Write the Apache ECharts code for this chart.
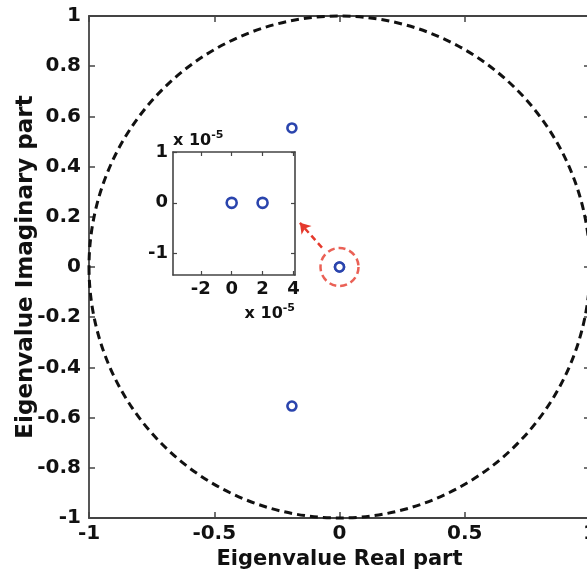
<!DOCTYPE html>
<html>
<head>
<meta charset="utf-8">
<script src="https://cdn.jsdelivr.net/npm/echarts@6/dist/echarts.min.js"></script>
<style>
  html, body { margin: 0; padding: 0; background: #fff; }
  #chart { width: 587px; height: 577px; }
</style>
</head>
<body>
<div id="chart"></div>
<script>
// Closed-loop eigenvalues (real / imaginary parts)
const eigReal = [-0.19, -0.19, 0, 2e-5];
const eigImag = [0.554, -0.554, 0, 0];

// Unit circle: centre (re, im) and radius
const unitCircle = [0, 0, 1];

// Zoomed-in window around the origin
const insetXRange = [-3.8e-5, 4.1e-5];
const insetYRange = [-1.42e-5, 1e-5];
const insetXTicks = [-2e-5, 0, 2e-5, 4e-5];
const insetYTicks = [-1e-5, 0, 1e-5];

// Highlight around the origin cluster, and the pointer towards the zoom window
const highlightCenter = [0, 0];
const arrowFrom = [-0.070, 0.077];
const arrowTo = [-0.158, 0.176];

const FONT = 'DejaVu Sans';
const AXIS = '#444';
const TEXT = '#111';
const BLUE = '#2a44ad';
const RED = '#e5392c';

const chart = echarts.init(document.getElementById('chart'));

const labelStyle = (size, margin) => ({
  color: TEXT, fontFamily: FONT, fontWeight: 'bold', fontSize: size, margin: margin
});
const lineStyle = (w) => ({ color: AXIS, width: w });

const sciName = {
  b: { fontFamily: FONT, fontWeight: 'bold', fontSize: 16, color: TEXT },
  s: { fontFamily: FONT, fontWeight: 'bold', fontSize: 11, color: TEXT, padding: [0, 0, 10, 0] }
};
const sciFmt = v => String(Math.round(v / 1e-5));

const mainPts = eigReal.map((x, i) => [x, eigImag[i]]);
const insetPts = mainPts.filter(p =>
  p[0] >= insetXRange[0] && p[0] <= insetXRange[1] &&
  p[1] >= insetYRange[0] && p[1] <= insetYRange[1]);

const option = {
  animation: false,
  backgroundColor: '#fff',
  grid: [
    { left: 89, top: 16, width: 501, height: 502, outerBoundsMode: 'none', containLabel: false },
    { left: 173, top: 152, width: 122, height: 123, outerBoundsMode: 'none', containLabel: false }
  ],
  xAxis: [
    {
      type: 'value', gridIndex: 0, position: 'bottom', min: -1, max: 1, interval: 0.5,
      axisLine: { show: true, onZero: false, lineStyle: lineStyle(1.8) },
      axisTick: { show: true, inside: true, length: 6, lineStyle: lineStyle(1.5) },
      axisLabel: Object.assign(labelStyle(20, 6), { showMinLabel: true, showMaxLabel: true, hideOverlap: false }),
      splitLine: { show: false },
      name: 'Eigenvalue Real part', nameLocation: 'middle', nameGap: 31, nameMoveOverlap: false,
      nameTextStyle: { color: TEXT, fontFamily: FONT, fontWeight: 'bold', fontSize: 21 }
    },
    {
      type: 'value', gridIndex: 0, position: 'top', min: -1, max: 1, interval: 0.5,
      axisLine: { show: true, onZero: false, lineStyle: lineStyle(1.8) },
      axisTick: { show: true, inside: true, length: 6, lineStyle: lineStyle(1.5) },
      axisLabel: { show: false }, splitLine: { show: false }
    },
    {
      type: 'value', gridIndex: 1, position: 'bottom', min: insetXRange[0], max: insetXRange[1],
      axisLine: { show: true, onZero: false, lineStyle: lineStyle(1.6) },
      axisTick: { show: true, inside: true, length: 4, customValues: insetXTicks, lineStyle: lineStyle(1.2) },
      axisLabel: Object.assign(labelStyle(18, 5), { customValues: insetXTicks, formatter: sciFmt }),
      splitLine: { show: false },
      name: '{b|x 10}{s|-5}', nameLocation: 'end', nameGap: 0, nameMoveOverlap: false,
      nameTextStyle: { align: 'right', verticalAlign: 'top', padding: [28, 0, 0, 0], rich: sciName }
    },
    {
      type: 'value', gridIndex: 1, position: 'top', min: insetXRange[0], max: insetXRange[1],
      axisLine: { show: true, onZero: false, lineStyle: lineStyle(1.6) },
      axisTick: { show: true, inside: true, length: 4, customValues: insetXTicks, lineStyle: lineStyle(1.2) },
      axisLabel: { show: false }, splitLine: { show: false }
    }
  ],
  yAxis: [
    {
      type: 'value', gridIndex: 0, position: 'left', min: -1, max: 1, interval: 0.2,
      axisLine: { show: true, onZero: false, lineStyle: lineStyle(1.8) },
      axisTick: { show: true, inside: true, length: 6, lineStyle: lineStyle(1.5) },
      axisLabel: Object.assign(labelStyle(20, 8), { showMinLabel: true, showMaxLabel: true, hideOverlap: false }),
      splitLine: { show: false },
      name: 'Eigenvalue Imaginary part', nameLocation: 'middle', nameGap: 51, nameMoveOverlap: false,
      nameTextStyle: { color: TEXT, fontFamily: FONT, fontWeight: 'bold', fontSize: 23 }
    },
    {
      type: 'value', gridIndex: 0, position: 'right', min: -1, max: 1, interval: 0.2,
      axisLine: { show: true, onZero: false, lineStyle: lineStyle(1.8) },
      axisTick: { show: true, inside: true, length: 6, lineStyle: lineStyle(1.5) },
      axisLabel: { show: false }, splitLine: { show: false }
    },
    {
      type: 'value', gridIndex: 1, position: 'left', min: insetYRange[0], max: insetYRange[1],
      axisLine: { show: true, onZero: false, lineStyle: lineStyle(1.6) },
      axisTick: { show: true, inside: true, length: 4, customValues: insetYTicks, lineStyle: lineStyle(1.2) },
      axisLabel: Object.assign(labelStyle(18, 5), { customValues: insetYTicks, formatter: sciFmt }),
      splitLine: { show: false },
      name: '{b|x 10}{s|-5}', nameLocation: 'end', nameGap: 1, nameMoveOverlap: false,
      nameTextStyle: { align: 'left', verticalAlign: 'bottom', rich: sciName }
    },
    {
      type: 'value', gridIndex: 1, position: 'right', min: insetYRange[0], max: insetYRange[1],
      axisLine: { show: true, onZero: false, lineStyle: lineStyle(1.6) },
      axisTick: { show: true, inside: true, length: 4, customValues: insetYTicks, lineStyle: lineStyle(1.2) },
      axisLabel: { show: false }, splitLine: { show: false }
    }
  ],
  series: [
    {
      // dashed unit circle |z| = 1
      type: 'custom', xAxisIndex: 0, yAxisIndex: 0, silent: true, clip: false,
      data: [unitCircle],
      renderItem: (params, api) => {
        const c = api.coord([api.value(0), api.value(1)]);
        const r = api.size([api.value(2), api.value(2)]);
        const rx = r[0], ry = r[1];
        const d = `M ${c[0] - rx} ${c[1]} A ${rx} ${ry} 0 1 0 ${c[0] + rx} ${c[1]} ` +
                  `A ${rx} ${ry} 0 1 0 ${c[0] - rx} ${c[1]} Z`;
        return {
          type: 'path', shape: { pathData: d },
          style: { fill: 'none', stroke: '#111', lineWidth: 3, lineDash: [8, 5] }
        };
      },
      z: 2
    },
    {
      type: 'scatter', xAxisIndex: 0, yAxisIndex: 0, silent: true,
      data: mainPts, symbol: 'circle', symbolSize: 9,
      itemStyle: { color: '#fff', borderColor: BLUE, borderWidth: 2.6, opacity: 1 },
      z: 5
    },
    {
      // red dashed highlight ring and pointer to the zoom window
      type: 'scatter', xAxisIndex: 0, yAxisIndex: 0, silent: true,
      data: [highlightCenter], symbol: 'circle', symbolSize: 38,
      itemStyle: { color: 'rgba(0,0,0,0)', borderColor: RED, borderWidth: 2.5, borderType: [7, 4] },
      markLine: {
        silent: true, symbol: ['none', 'arrow'], symbolSize: 10,
        label: { show: false },
        lineStyle: { color: RED, width: 2.5, type: [6, 4] },
        data: [[{ coord: arrowFrom }, { coord: arrowTo }]]
      },
      z: 4
    },
    {
      type: 'scatter', xAxisIndex: 2, yAxisIndex: 2, silent: true,
      data: insetPts, symbol: 'circle', symbolSize: 10,
      itemStyle: { color: '#fff', borderColor: BLUE, borderWidth: 2.6, opacity: 1 },
      z: 5
    }
  ]
};

chart.setOption(option);
</script>
</body>
</html>
